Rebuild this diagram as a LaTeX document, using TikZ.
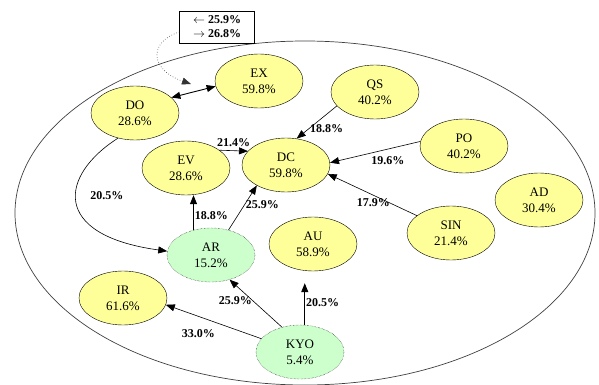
\documentclass[tikz,border=0pt]{standalone}
\usepackage{fontspec}
\setmainfont{Liberation Serif}
\usetikzlibrary{shapes.geometric,arrows.meta}
\definecolor{nodeyellow}{HTML}{FFFF99}
\definecolor{nodegreen}{HTML}{CCFFCC}

\begin{document}
\begin{tikzpicture}[x=1pt, y=-1pt, >={Triangle[length=9pt,width=7pt]},
    main/.style = {draw, ellipse, fill=nodeyellow, minimum width=88pt, minimum height=54pt, inner sep=0pt, align=center, font=\fontsize{13}{16}\selectfont},
    sub/.style = {main, fill=nodegreen, densely dotted},
    link/.style = {->, line width=0.6pt},
    pct/.style = {font=\bfseries\fontsize{12}{14}\selectfont, inner sep=1pt}]
  \useasboundingbox (0,0) rectangle (599,385);
  \draw[black!75, line width=0.7pt] (305,213) ellipse [x radius=290, y radius=172];

  \node[main] (ex) at (259,81) {EX\\59.8\%};
  \node[main] (do) at (135,113) {DO\\28.6\%};
  \node[main] (qs) at (375,92) {QS\\40.2\%};
  \node[main] (ev) at (186,168) {EV\\28.6\%};
  \node[main] (dc) at (286,165) {DC\\59.8\%};
  \node[main] (po) at (464,146) {PO\\40.2\%};
  \node[main] (ad) at (539,200) {AD\\30.4\%};
  \node[main] (sin) at (451,233) {SIN\\21.4\%};
  \node[main] (au) at (313,244) {AU\\58.9\%};
  \node[sub] (ar) at (211,255) {AR\\15.2\%};
  \node[main] (ir) at (123,298) {IR\\61.6\%};
  \node[sub] (kyo) at (300,352) {KYO\\5.4\%};
  \node[draw, pct, align=center, minimum width=75pt, minimum height=32pt] (box) at (217,27) {$\leftarrow$ 25.9\%\\$\rightarrow$ 26.8\%};

  \draw[<->, line width=0.9pt] (do.23) -- (ex.187);
  \draw[link] (ev.28) -- node[pct, above=3pt] (l1) {21.4\%} (dc.160);
  \draw[link] (qs.200) -- node[pct, pos=0.7, anchor=west] (l2) {18.8\%} (dc.68);
  \draw[link] (po.174) -- node[pct, pos=0.36, below=6pt] (l3) {19.6\%} (dc.3);
  \draw[link] (sin.153) -- node[pct, pos=0.49, below=2pt] (l4) {17.9\%} (dc.348);
  \draw[link] (do.236) .. controls (60,175) and (50,235) .. node[pct, pos=0.45, right=13pt] (l5) {20.5\%} (ar.175);
  \draw[link, line width=0.9pt] (ar.125) -- node[pct, pos=0.4, right] (l6) {18.8\%} (ar.125 |- ev.south);
  \draw[link] (ar.55) -- node[pct, pos=0.57, anchor=west] (l7) {25.9\%} (dc.215);
  \draw[link] (kyo.126) -- node[pct, pos=0.55, anchor=east] (l8) {25.9\%} (ar.307);
  \draw[link] (kyo.161) -- node[pct, pos=0.66, below=12pt] (l9) {33.0\%} (ir.351);
  \draw[link, line width=0.9pt, shorten >=12pt] (kyo.80) -- node[pct, pos=0.42, right] (l10) {20.5\%} (kyo.80 |- au.south);

  % dotted pointer from the box to the two-way link
  \coordinate (mid) at (191,84);
  \draw[dotted, black!80, line width=0.6pt, ->] ([yshift=-5pt]box.west) .. controls (148,42) and (150,70) .. (mid);
\end{tikzpicture}
\end{document}
